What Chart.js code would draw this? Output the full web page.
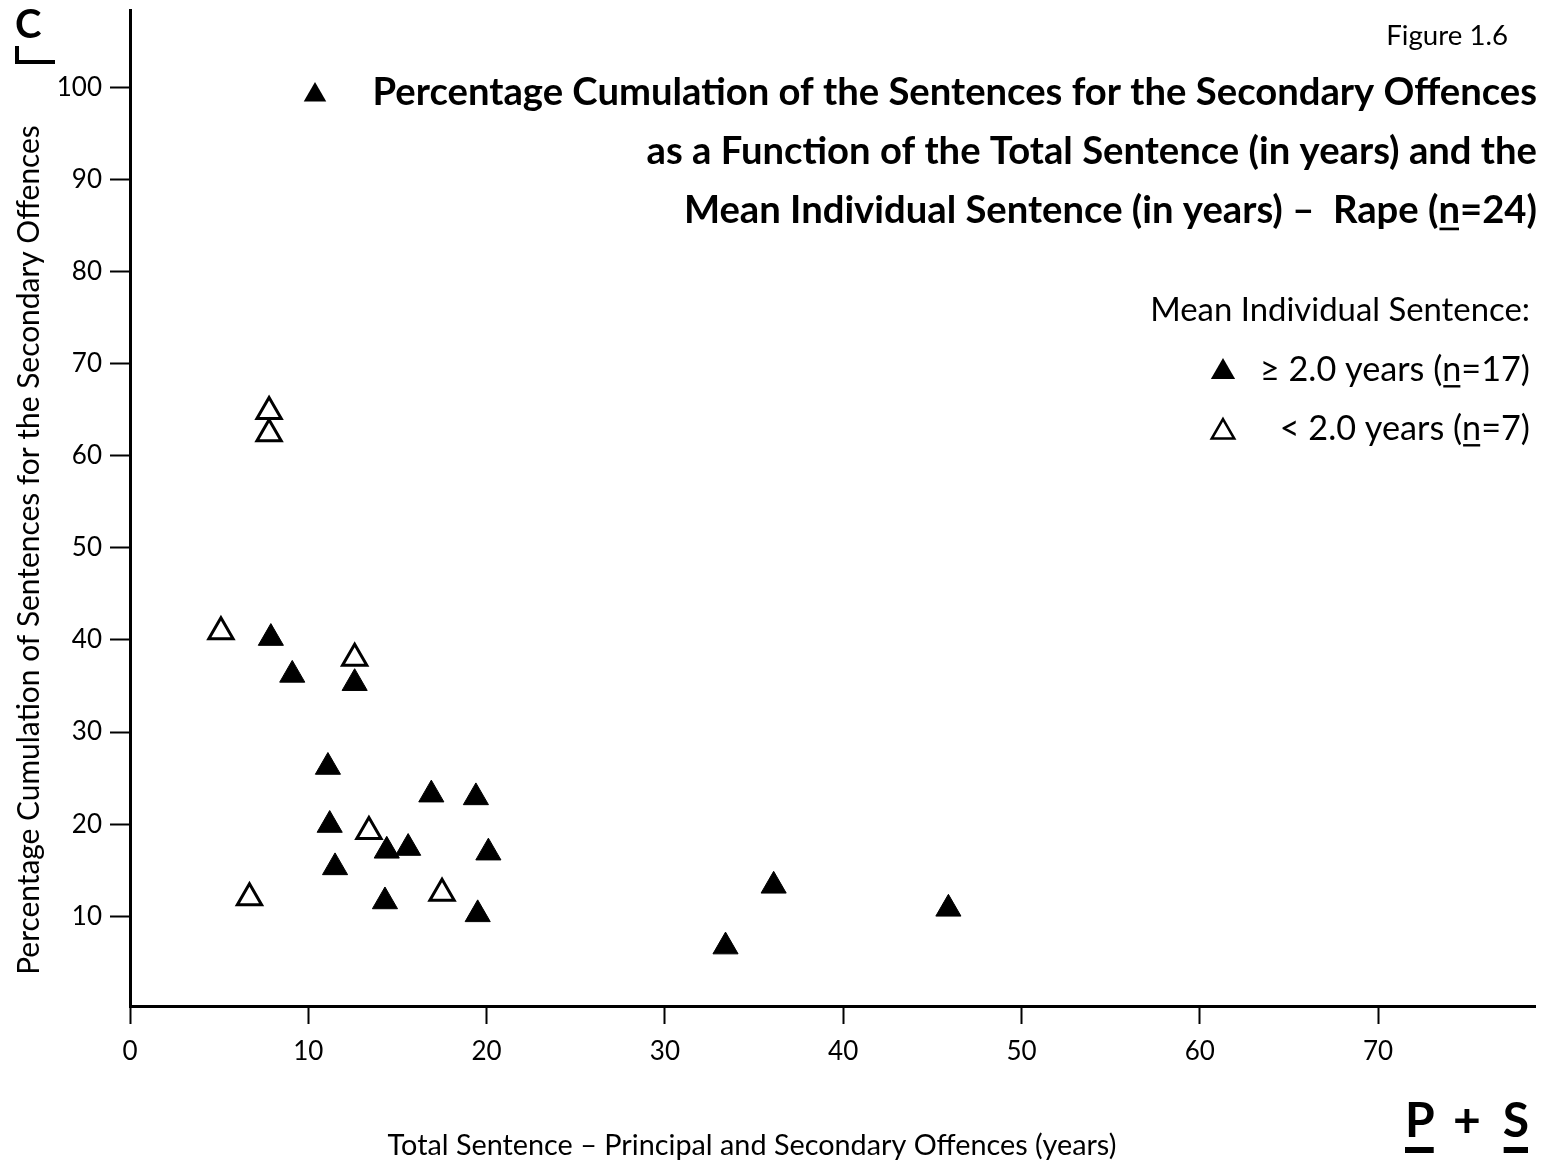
<!DOCTYPE html>
<html>
<head>
<meta charset="utf-8">
<script src="https://cdn.jsdelivr.net/npm/chart.js@4.4.0/dist/chart.umd.min.js"></script>
<style>
  html, body { margin: 0; padding: 0; background: #fff; }
  canvas { display: block; }
</style>
</head>
<body>
<canvas id="chart" width="1545" height="1168"></canvas>
<script>
// Axis tick values
const xTickValues = [0, 10, 20, 30, 40, 50, 60, 70];
const yTickValues = [10, 20, 30, 40, 50, 60, 70, 80, 90, 100];

// Mean individual sentence >= 2.0 years: total sentence (years) / % cumulation
const highTotal = [7.9, 9.1, 12.6, 11.1, 16.9, 19.4, 11.2, 14.4, 15.6, 20.1, 11.5, 14.3, 19.5, 36.1, 45.9, 33.4];
const highPct   = [40.2, 36.2, 35.3, 26.2, 23.2, 22.9, 19.9, 17.1, 17.4, 16.9, 15.3, 11.6, 10.2, 13.3, 10.8, 6.7];

// Mean individual sentence < 2.0 years
const lowTotal = [7.8, 7.8, 5.1, 12.6, 13.4, 17.5, 6.7];
const lowPct   = [64.8, 62.4, 40.9, 38.0, 19.2, 12.5, 12.0];

const FONT = 'Lato, "Open Sans", "DejaVu Sans", sans-serif';

function fitSize(ctx, text, weight, width) {
  ctx.font = weight + ' 100px ' + FONT;
  return 100 * width / ctx.measureText(text).width;
}

function triangle(ctx, cx, cy, r, filled, lw) {
  const s = Math.sin(2 * Math.PI / 3);
  ctx.beginPath();
  ctx.moveTo(cx, cy - r);
  ctx.lineTo(cx + s * r, cy + r / 2);
  ctx.lineTo(cx - s * r, cy + r / 2);
  ctx.closePath();
  if (filled) { ctx.fillStyle = '#000'; ctx.fill(); }
  else { ctx.lineWidth = lw; ctx.strokeStyle = '#000'; ctx.lineJoin = 'miter'; ctx.stroke(); }
}

// Draws right-aligned text made of segments; segments given as {u: '...'} are underlined.
function drawSegments(ctx, segs, rightX, baseline, size, weight) {
  ctx.font = weight + ' ' + size + 'px ' + FONT;
  ctx.textAlign = 'left';
  ctx.textBaseline = 'alphabetic';
  ctx.fillStyle = '#000';
  const parts = segs.map(s => (typeof s === 'string' ? { t: s, u: false } : { t: s.u, u: true }));
  const total = parts.reduce((a, p) => a + ctx.measureText(p.t).width, 0);
  let x = rightX - total;
  for (const p of parts) {
    const w = ctx.measureText(p.t).width;
    ctx.fillText(p.t, x, baseline);
    if (p.u) {
      ctx.fillRect(x + 1, baseline + size * 0.12, w - 2, Math.max(2, size * 0.07));
    }
    x += w;
  }
  return rightX - total;
}

const textPlugin = {
  id: 'figureText',
  afterDraw(chart) {
    const ctx = chart.ctx;
    ctx.save();
    ctx.fillStyle = '#000';

    // Panel mark
    ctx.font = 'bold 40px ' + FONT;
    ctx.textAlign = 'left';
    ctx.textBaseline = 'alphabetic';
    ctx.fillText('C', 15, 38);
    ctx.fillRect(15, 46, 4, 18);
    ctx.fillRect(15, 60, 40, 4);

    // Figure number
    const figSize = fitSize(ctx, 'Figure 1.6', 'normal', 116);
    drawSegments(ctx, ['Figure 1.6'], 1508, 45, figSize * 1.05, 'normal');

    // Title
    const l1 = 'Percentage Cumulation of the Sentences for the Secondary Offences';
    const tSize = fitSize(ctx, l1, 'bold', 1165);
    drawSegments(ctx, [l1], 1537, 105, tSize, 'bold');
    drawSegments(ctx, ['as a Function of the Total Sentence (in years) and the'], 1537, 164, tSize, 'bold');
    drawSegments(ctx, ['Mean Individual Sentence (in years) \u2013  Rape (', { u: 'n' }, '=24)'], 1537, 223, tSize, 'bold');
    triangle(ctx, 315, 95, 13, true);

    // Key
    const kHead = 'Mean Individual Sentence:';
    const kSize = fitSize(ctx, kHead, 'normal', 380);
    drawSegments(ctx, [kHead], 1530, 321, kSize, 'normal');
    drawSegments(ctx, ['\u2265 2.0 years (', { u: 'n' }, '=17)'], 1530, 381, kSize * 1.04, 'normal');
    drawSegments(ctx, ['< 2.0 years (', { u: 'n' }, '=7)'], 1530, 440, kSize * 1.04, 'normal');
    triangle(ctx, 1223, 372, 14, true);
    triangle(ctx, 1223, 432, 13, false, 2.5);

    // Axis titles
    const yt = 'Percentage Cumulation of Sentences for the Secondary Offences';
    const ySize = fitSize(ctx, yt, 'normal', 850);
    ctx.save();
    ctx.translate(39, 550);
    ctx.rotate(-Math.PI / 2);
    ctx.font = 'normal ' + ySize + 'px ' + FONT;
    ctx.textAlign = 'center';
    ctx.textBaseline = 'alphabetic';
    ctx.fillText(yt, 0, 0);
    ctx.restore();

    const xt = 'Total Sentence \u2013 Principal and Secondary Offences (years)';
    const xSize = fitSize(ctx, xt, 'normal', 729);
    ctx.font = 'normal ' + xSize + 'px ' + FONT;
    ctx.textAlign = 'center';
    ctx.fillText(xt, 752, 1155);

    // Corner mark
    ctx.font = 'bold 48px ' + FONT;
    ctx.textAlign = 'left';
    const pw = ctx.measureText('P').width;
    const sw = ctx.measureText('S').width;
    const plw = ctx.measureText('+').width;
    ctx.fillText('P', 1405, 1137);
    ctx.fillText('+', 1467 - plw / 2, 1137);
    ctx.fillText('S', 1529 - sw, 1137);
    ctx.fillRect(1405, 1147, pw - 1, 6);
    ctx.fillRect(1529 - sw + 1, 1147, sw - 2, 6);

    ctx.restore();
  }
};

function build() {
  const ctx = document.getElementById('chart').getContext('2d');
  new Chart(ctx, {
    type: 'scatter',
    data: {
      datasets: [
        {
          label: '\u2265 2.0 years',
          data: highTotal.map((x, i) => ({ x: x, y: highPct[i] })),
          pointStyle: 'triangle',
          pointRadius: 14.5,
          backgroundColor: '#000',
          borderColor: '#000',
          borderWidth: 1
        },
        {
          label: '< 2.0 years',
          data: lowTotal.map((x, i) => ({ x: x, y: lowPct[i] })),
          pointStyle: 'triangle',
          pointRadius: 14,
          backgroundColor: 'rgba(0,0,0,0)',
          borderColor: '#000',
          borderWidth: 3
        }
      ]
    },
    options: {
      responsive: false,
      animation: false,
      devicePixelRatio: 1,
      events: [],
      layout: { autoPadding: false, padding: { top: 10, right: 10, left: 0, bottom: 0 } },
      plugins: { legend: { display: false }, tooltip: { enabled: false } },
      scales: {
        x: {
          type: 'linear',
          position: 'bottom',
          min: 0,
          max: 78.8,
          afterBuildTicks: s => { s.ticks = xTickValues.map(v => ({ value: v })); },
          afterFit: s => { s.height = 162; s.paddingLeft = 0; s.paddingRight = 0; },
          border: { display: true, color: '#000', width: 3 },
          grid: { drawOnChartArea: false, drawTicks: true, tickLength: 18, tickWidth: 2, tickColor: '#000' },
          ticks: { color: '#000', font: { family: FONT, size: 26 }, padding: 12, maxRotation: 0, autoSkip: false }
        },
        y: {
          type: 'linear',
          position: 'left',
          min: 0.25,
          max: 108.4,
          afterBuildTicks: s => { s.ticks = yTickValues.map(v => ({ value: v })); },
          afterFit: s => { s.width = 130; s.paddingTop = 0; s.paddingBottom = 0; },
          border: { display: true, color: '#000', width: 3 },
          grid: { drawOnChartArea: false, drawTicks: true, tickLength: 20, tickWidth: 2, tickColor: '#000' },
          ticks: { color: '#000', font: { family: FONT, size: 26 }, padding: 8, autoSkip: false }
        }
      }
    },
    plugins: [textPlugin]
  });
}

const ready = document.fonts && document.fonts.load
  ? Promise.race([
      Promise.all([document.fonts.load('24px Lato'), document.fonts.load('bold 24px Lato')]),
      new Promise(r => setTimeout(r, 800))
    ])
  : Promise.resolve();
ready.then(build, build);
</script>
</body>
</html>
